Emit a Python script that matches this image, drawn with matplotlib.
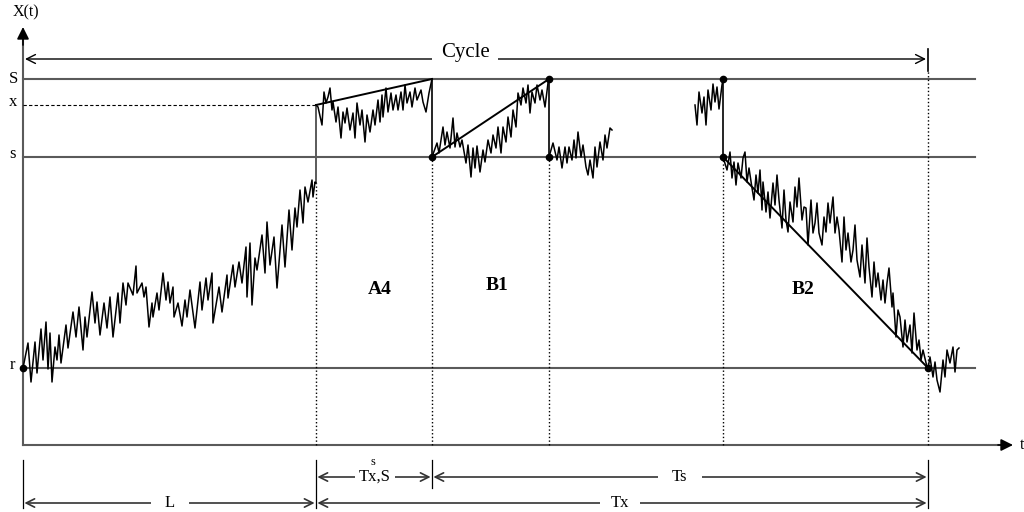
import matplotlib.pyplot as plt

plt.rcParams['font.family'] = ['Liberation Serif', 'DejaVu Serif']

# inventory levels
S_LEVEL = 366
X_LEVEL = 340
s_LEVEL = 288
r_LEVEL = 77

# event times
T_L = 293      # end of lead time L
T_S = 409      # hit S
T_B1 = 526     # end of B1
T_B2 = 700     # start of B2
T_END = 905    # end of cycle

# sample paths of X(t), piece by piece
t1 = [0, 5, 8, 12, 14, 18, 20, 23, 25, 27, 29, 32, 34, 36, 38, 43, 45, 50, 53, 56,
      60, 62, 64, 69, 72, 74, 77, 81, 84, 87, 90, 95, 97, 100, 103, 105, 110, 113, 114, 119,
      121, 123, 126, 129, 130, 134, 136, 140, 143, 145, 147, 150, 151, 155, 159, 162, 164, 167, 172, 177,
      179, 183, 185, 189, 190, 196, 199, 204, 205, 210, 212, 216, 219, 223, 224, 227, 229, 232, 234, 239,
      242, 244, 247, 251, 254, 259, 262, 266, 269, 272, 274, 277, 280, 282, 285, 289, 290, 292, 293]
x1 = [77, 102, 63, 103, 72, 116, 85, 123, 76, 112, 63, 98, 85, 110, 82, 120, 97, 133, 108, 138,
      95, 128, 108, 153, 122, 143, 110, 142, 117, 148, 108, 152, 122, 162, 140, 162, 150, 179, 152, 162,
      148, 158, 118, 142, 128, 152, 135, 172, 145, 163, 142, 158, 128, 142, 119, 145, 128, 155, 117, 163,
      135, 167, 145, 172, 122, 158, 133, 170, 147, 180, 158, 183, 162, 198, 148, 202, 140, 187, 175, 210,
      172, 223, 180, 208, 157, 220, 178, 235, 195, 237, 218, 255, 222, 258, 243, 265, 248, 263, 262]

t2 = [293, 295, 299, 301, 303, 305, 307, 309, 310, 313, 315, 318, 320, 322, 324, 327, 330, 332, 334, 337,
      339, 342, 344, 347, 350, 352, 355, 357, 359, 360, 363, 365, 368, 370, 373, 375, 378, 380, 382, 384,
      387, 389, 392, 394, 398, 400, 403, 406, 409]
x2 = [340, 338, 320, 353, 342, 348, 357, 335, 343, 323, 338, 307, 333, 322, 337, 315, 332, 307, 342, 320,
      335, 303, 330, 313, 335, 320, 345, 323, 350, 328, 357, 333, 352, 335, 350, 335, 353, 335, 360, 342,
      353, 338, 357, 345, 355, 343, 333, 352, 366]

t3 = [409, 414, 416, 420, 422, 424, 427, 430, 432, 434, 437, 439, 443, 445, 448, 450, 452, 454, 457, 460,
      462, 465, 468, 470, 473, 475, 478, 480, 483, 485, 488, 490, 493, 495, 498, 500, 503, 505, 507, 509,
      512, 514, 517, 519, 522, 525, 526]
x3 = [288, 302, 292, 318, 300, 313, 297, 327, 298, 312, 298, 305, 282, 300, 268, 297, 277, 299, 273, 295,
      283, 305, 292, 310, 297, 318, 292, 318, 303, 328, 308, 335, 318, 352, 340, 357, 342, 360, 332, 353,
      342, 360, 345, 355, 338, 362, 366]

t4 = [526, 530, 534, 536, 539, 542, 544, 546, 549, 551, 553, 555, 558, 560, 563, 565, 567, 570, 572, 574,
      577, 580, 582, 584, 587, 589]
x4 = [288, 302, 285, 298, 277, 298, 282, 298, 285, 305, 287, 313, 288, 300, 278, 270, 285, 267, 298, 278,
      303, 285, 310, 297, 317, 315]

t5 = [672, 674, 676, 679, 681, 683, 685, 688, 690, 692, 694, 696, 699, 700]
x5 = [340, 320, 353, 332, 348, 320, 355, 335, 361, 343, 358, 336, 360, 366]

t6 = [700, 704, 707, 709, 711, 713, 715, 718, 720, 722, 724, 726, 729, 731, 733, 735, 737, 739, 740, 743,
      745, 747, 750, 752, 754, 756, 759, 761, 763, 765, 767, 770, 772, 774, 776, 779, 781, 783, 785, 788,
      790, 792, 794, 796, 799, 801, 803, 805, 807, 810, 812, 814, 816, 819, 821, 823, 825, 828, 830, 832,
      834, 837, 839, 842, 844, 846, 849, 851, 853, 855, 858, 860, 862, 864, 866, 869, 870, 873, 875, 877,
      880, 882, 884, 887, 889, 891, 894, 896, 898, 900, 904, 905]
x6 = [288, 275, 293, 267, 283, 260, 282, 267, 287, 293, 263, 277, 257, 245, 270, 252, 275, 235, 263, 233,
      253, 227, 262, 240, 270, 245, 217, 255, 225, 213, 243, 223, 258, 238, 267, 225, 238, 237, 200, 245,
      212, 222, 242, 212, 200, 228, 213, 242, 222, 248, 212, 228, 215, 183, 228, 195, 212, 183, 195, 220,
      185, 168, 200, 162, 207, 178, 148, 183, 158, 172, 145, 165, 142, 162, 177, 138, 152, 108, 135, 128,
      98, 125, 103, 120, 92, 132, 95, 105, 85, 95, 78, 77]

t7 = [905, 907, 910, 912, 914, 917, 920, 922, 924, 927, 930, 932, 934, 936]
x7 = [77, 88, 68, 83, 65, 53, 85, 68, 95, 82, 98, 73, 95, 97]

fig = plt.figure(figsize=(10.24, 5.12), dpi=100)
ax = fig.add_axes([0, 0, 1, 1])
ax.set_xlim(-23, 1001)
ax.set_ylim(-67, 445)
ax.axis('off')

grey = '#5a5a5a'

# axes with arrows
ax.plot([0, 0], [0, 405], color=grey, lw=1.5)
ax.annotate('', xy=(0, 418), xytext=(0, 400),
            arrowprops=dict(arrowstyle='-|>', lw=1.2, shrinkA=0, shrinkB=0,
                            mutation_scale=18, ec='black', fc='black'))
ax.plot([0, 980], [0, 0], color=grey, lw=1.5)
ax.annotate('', xy=(990, 0), xytext=(975, 0),
            arrowprops=dict(arrowstyle='-|>', lw=1.2, shrinkA=0, shrinkB=0,
                            mutation_scale=18, ec='black', fc='black'))
ax.text(3, 433, 'X(t)', fontsize=11.5, ha='center', va='center')
ax.text(997, 0, 't', fontsize=11.5, ha='left', va='center')

# level lines
for lev in (S_LEVEL, s_LEVEL, r_LEVEL):
    ax.plot([0, 952], [lev, lev], color=grey, lw=1.5)
ax.plot([0, T_L], [X_LEVEL, X_LEVEL], color='black', lw=0.8, ls=(0, (3, 2)))
ax.text(-10, S_LEVEL, 'S', fontsize=12, ha='center', va='center')
ax.text(-10, X_LEVEL + 3, 'x', fontsize=12, ha='center', va='center')
ax.text(-10, s_LEVEL + 3, 's', fontsize=12, ha='center', va='center')
ax.text(-11, r_LEVEL + 3, 'r', fontsize=12, ha='center', va='center')

# dotted time markers
ax.plot([T_L, T_L], [0, 262], color='black', lw=1.0, ls=':')
for tt in (T_S, T_B1, T_B2):
    ax.plot([tt, tt], [0, s_LEVEL], color='black', lw=1.0, ls=':')
ax.plot([T_END, T_END], [0, 374], color='black', lw=1.0, ls=':')

# jumps
ax.plot([T_L, T_L], [262, X_LEVEL], color=grey, lw=1.4)
for tt in (T_S, T_B1, T_B2):
    ax.plot([tt, tt], [s_LEVEL, S_LEVEL], color='black', lw=1.2)

# sample paths
for tt, xx in ((t1, x1), (t2, x2), (t3, x3), (t4, x4), (t5, x5), (t6, x6), (t7, x7)):
    ax.plot(tt, xx, color='black', lw=1.1)

# reference slopes
ax.plot([T_L, T_S], [X_LEVEL, S_LEVEL], color='black', lw=1.4)
ax.plot([T_S, T_B1], [s_LEVEL, S_LEVEL], color='black', lw=1.4)
ax.plot([T_B2, T_END], [s_LEVEL, r_LEVEL], color='black', lw=1.4)

# marked points
px = [0, T_S, T_B1, T_B1, T_B2, T_B2, T_END]
py = [r_LEVEL, s_LEVEL, S_LEVEL, s_LEVEL, S_LEVEL, s_LEVEL, r_LEVEL]
ax.plot(px, py, 'o', color='black', ms=4.5)

# region labels
ax.text(357, 155, 'A4', fontsize=14, fontweight='bold', ha='center', va='center')
ax.text(474, 160, 'B1', fontsize=14, fontweight='bold', ha='center', va='center')
ax.text(780, 155, 'B2', fontsize=14, fontweight='bold', ha='center', va='center')

# cycle span
arr = dict(arrowstyle='<->', color='black', lw=1.0, shrinkA=0, shrinkB=0, mutation_scale=16)
ax.annotate('', xy=(2, 386), xytext=(T_END - 2, 386), arrowprops=arr)
ax.plot([T_END, T_END], [374, 396], color='black', lw=1.2)
ax.text(442, 392, 'Cycle', fontsize=15, ha='center', va='center',
        bbox=dict(fc='white', ec='none', pad=6))

# bottom spans
arr2 = dict(arrowstyle='<->', color='#333333', lw=1.2, shrinkA=1, shrinkB=1, mutation_scale=15)
ax.plot([0, 0], [-15, -63], color='black', lw=0.9)
ax.plot([T_L, T_L], [-15, -63], color='black', lw=0.9)
ax.plot([T_S, T_S], [-15, -43], color='black', lw=0.9)
ax.plot([T_END, T_END], [-15, -63], color='black', lw=0.9)

ax.annotate('', xy=(0, -58), xytext=(T_L, -58), arrowprops=arr2)
ax.text(147, -58, 'L', fontsize=12, ha='center', va='center',
        bbox=dict(fc='white', ec='none', pad=10))
ax.annotate('', xy=(T_L, -58), xytext=(T_END, -58), arrowprops=arr2)
ax.text(597, -58, 'Tx', fontsize=12, ha='center', va='center',
        bbox=dict(fc='white', ec='none', pad=8))
ax.annotate('', xy=(T_L, -32), xytext=(T_S, -32), arrowprops=arr2)
ax.text(352, -32, 'Tx,S', fontsize=12, ha='center', va='center',
        bbox=dict(fc='white', ec='none', pad=3))
ax.text(350, -17, 's', fontsize=9, ha='center', va='center')
ax.annotate('', xy=(T_S, -32), xytext=(T_END, -32), arrowprops=arr2)
ax.text(657, -32, 'Ts', fontsize=12, ha='center', va='center',
        bbox=dict(fc='white', ec='none', pad=10))

fig.savefig('out.png', dpi=100)
